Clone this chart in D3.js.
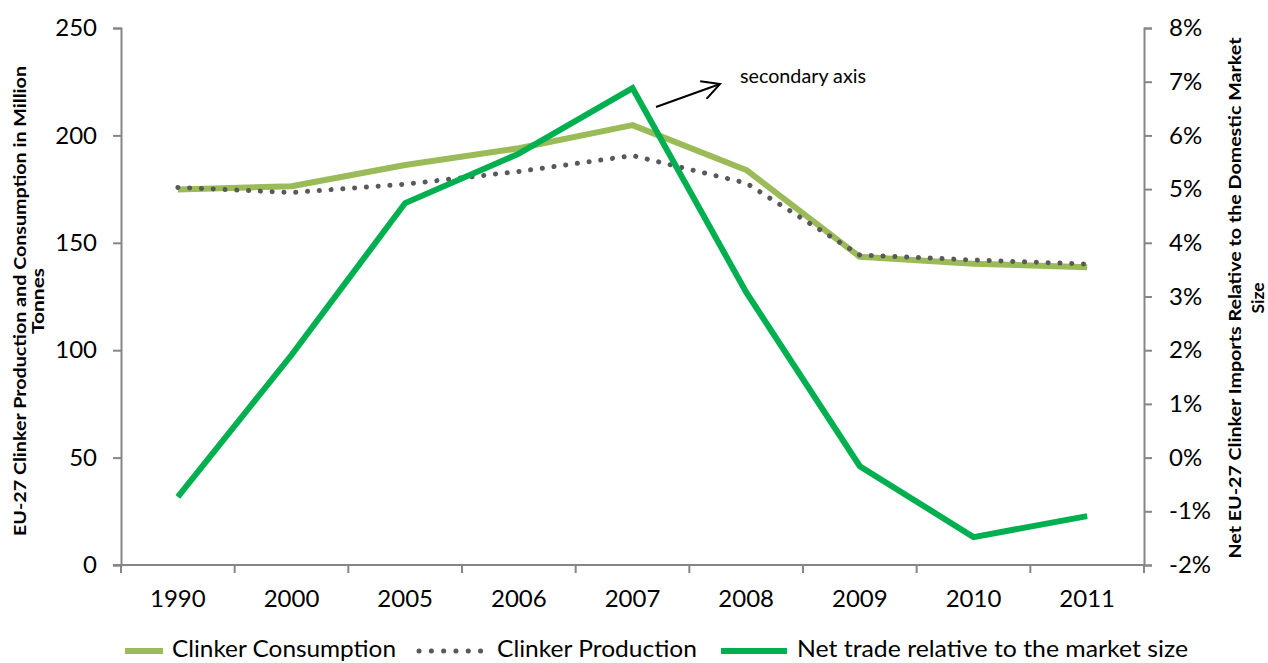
<!DOCTYPE html>
<html>
<head>
<meta charset="utf-8">
<script src="https://cdn.jsdelivr.net/npm/d3@7/dist/d3.min.js"></script>
<style>
  html, body { margin: 0; padding: 0; background: #fff; }
  svg { display: block; font-family: Lato, "Open Sans", sans-serif; }
</style>
</head>
<body>
<svg id="chart" width="1268" height="663"></svg>
<script>
// Years on the category axis
const years = ["1990", "2000", "2005", "2006", "2007", "2008", "2009", "2010", "2011"];
// Clinker consumption, million tonnes (left axis)
const consumption = [174.8, 176.3, 186.2, 194.0, 204.8, 183.9, 143.5, 140.3, 138.6];
// Clinker production, million tonnes (left axis)
const production = [175.8, 173.4, 177.3, 183.2, 190.6, 177.8, 144.3, 142.0, 140.1];
// Net trade relative to the domestic market size, % (right axis)
const netTrade = [-0.73, 1.91, 4.74, 5.66, 6.88, 3.08, -0.16, -1.48, -1.09];
// Axis tick values
const leftTicks = [0, 50, 100, 150, 200, 250];
const rightTicks = [-2, -1, 0, 1, 2, 3, 4, 5, 6, 7, 8];

const svg = d3.select("#chart");
const plotLeft = 121, plotRight = 1144, plotTop = 28, plotBottom = 565;
const axisColor = "#868686";
const tickFont = "24px";

const x = d3.scaleBand().domain(years).range([plotLeft, plotRight]).padding(0);
const yL = d3.scaleLinear().domain([0, 250]).range([plotBottom, plotTop]);
const yR = d3.scaleLinear().domain([-2, 8]).range([plotBottom, plotTop]);
const cx = d => x(d) + x.bandwidth() / 2;

// Left axis
const gL = svg.append("g").attr("transform", `translate(${plotLeft},0)`)
  .call(d3.axisLeft(yL).tickValues(leftTicks).tickSize(8).tickPadding(16));
// Right axis
const gR = svg.append("g").attr("transform", `translate(${plotRight},0)`)
  .call(d3.axisRight(yR).tickValues(rightTicks).tickSize(8).tickPadding(17)
    .tickFormat(d => d + "%"));
// Category axis: labels centred in each band, ticks on the band boundaries
const gX = svg.append("g").attr("transform", `translate(0,${plotBottom})`)
  .call(d3.axisBottom(x).tickSize(0).tickPadding(25));
gX.selectAll(".band-edge").data(years.concat(["_end"])).enter().append("line")
  .attr("class", "band-edge")
  .attr("x1", (d, i) => i < years.length ? x(d) : plotRight)
  .attr("x2", (d, i) => i < years.length ? x(d) : plotRight)
  .attr("y1", 0).attr("y2", 8)
  .attr("stroke", axisColor).attr("stroke-width", 2);

[gL, gR, gX].forEach(g => {
  g.select(".domain").attr("stroke", axisColor).attr("stroke-width", 2);
  g.selectAll(".tick line").attr("stroke", axisColor).attr("stroke-width", 2);
  g.selectAll(".tick text").attr("fill", "#000").style("font-size", tickFont)
    .style("font-family", "Lato, 'Open Sans', sans-serif");
});
gX.select(".domain").attr("d", `M${plotLeft - 8},0H${plotRight}`);

// Axis titles (two lines each, rotated)
function axisTitle(cyPos, lines, ys, lengths) {
  const t = svg.append("text")
    .attr("transform", `translate(0,${cyPos}) rotate(-90)`)
    .attr("text-anchor", "middle").style("font-size", "17px").style("font-weight", "bold");
  lines.forEach((s, i) => {
    t.append("tspan").attr("x", 0).attr("y", ys[i]).text(s)
      .attr("textLength", lengths[i]).attr("lengthAdjust", "spacingAndGlyphs");
  });
}
axisTitle(301, ["EU-27 Clinker Production and Consumption in Million", "Tonnes"], [26, 44], [470, 66]);
axisTitle(298, ["Net EU-27 Clinker Imports Relative to the Domestic Market", "Size"], [1241, 1264], [521, 31]);

// Series lines
const lineL = d3.line().x((d, i) => cx(years[i])).y(d => yL(d));
const lineR = d3.line().x((d, i) => cx(years[i])).y(d => yR(d));

svg.append("path").datum(consumption).attr("d", lineL)
  .attr("fill", "none").attr("stroke", "#9BBB59").attr("stroke-width", 6)
  .attr("stroke-linejoin", "round");
svg.append("path").datum(production).attr("d", lineL)
  .attr("fill", "none").attr("stroke", "#595959").attr("stroke-width", 5)
  .attr("stroke-linecap", "round").attr("stroke-dasharray", "0.1 11.7");
svg.append("path").datum(netTrade).attr("d", lineR)
  .attr("fill", "none").attr("stroke", "#00B050").attr("stroke-width", 6)
  .attr("stroke-linejoin", "miter");

// Annotation pointing to the secondary axis
svg.append("defs").append("marker")
  .attr("id", "arrowhead").attr("viewBox", "0 0 22 20").attr("refX", 20).attr("refY", 10)
  .attr("markerWidth", 22).attr("markerHeight", 20).attr("markerUnits", "userSpaceOnUse")
  .attr("orient", "auto")
  .append("path").attr("d", "M2.3,0.6 L20,10 L2.3,19.4").attr("fill", "none")
  .attr("stroke", "#000").attr("stroke-width", 2);
svg.append("line").attr("x1", 656).attr("y1", 107).attr("x2", 720).attr("y2", 84)
  .attr("stroke", "#000").attr("stroke-width", 2).attr("marker-end", "url(#arrowhead)");
svg.append("text").attr("x", 740).attr("y", 83).style("font-size", "19.5px")
  .attr("textLength", 126).attr("lengthAdjust", "spacingAndGlyphs").text("secondary axis");

// Legend
const legendY = 651;
const legend = [
  { label: "Clinker Consumption", color: "#9BBB59", x0: 125, x1: 163, dash: null, w: 6, tx: 172, len: 224 },
  { label: "Clinker Production", color: "#595959", x0: 419, x1: 481, dash: "0.1 12.2", w: 5, tx: 497, len: 200 },
  { label: "Net trade relative to the market size", color: "#00B050", x0: 721, x1: 787, dash: null, w: 6, tx: 797, len: 391 }
];
legend.forEach(l => {
  svg.append("line").attr("x1", l.x0).attr("x2", l.x1).attr("y1", legendY).attr("y2", legendY)
    .attr("stroke", l.color).attr("stroke-width", l.w)
    .attr("stroke-dasharray", l.dash).attr("stroke-linecap", l.dash ? "round" : "butt");
  svg.append("text").attr("x", l.tx).attr("y", 657).style("font-size", "24px")
    .attr("textLength", l.len).attr("lengthAdjust", "spacingAndGlyphs").text(l.label);
});
</script>
</body>
</html>
